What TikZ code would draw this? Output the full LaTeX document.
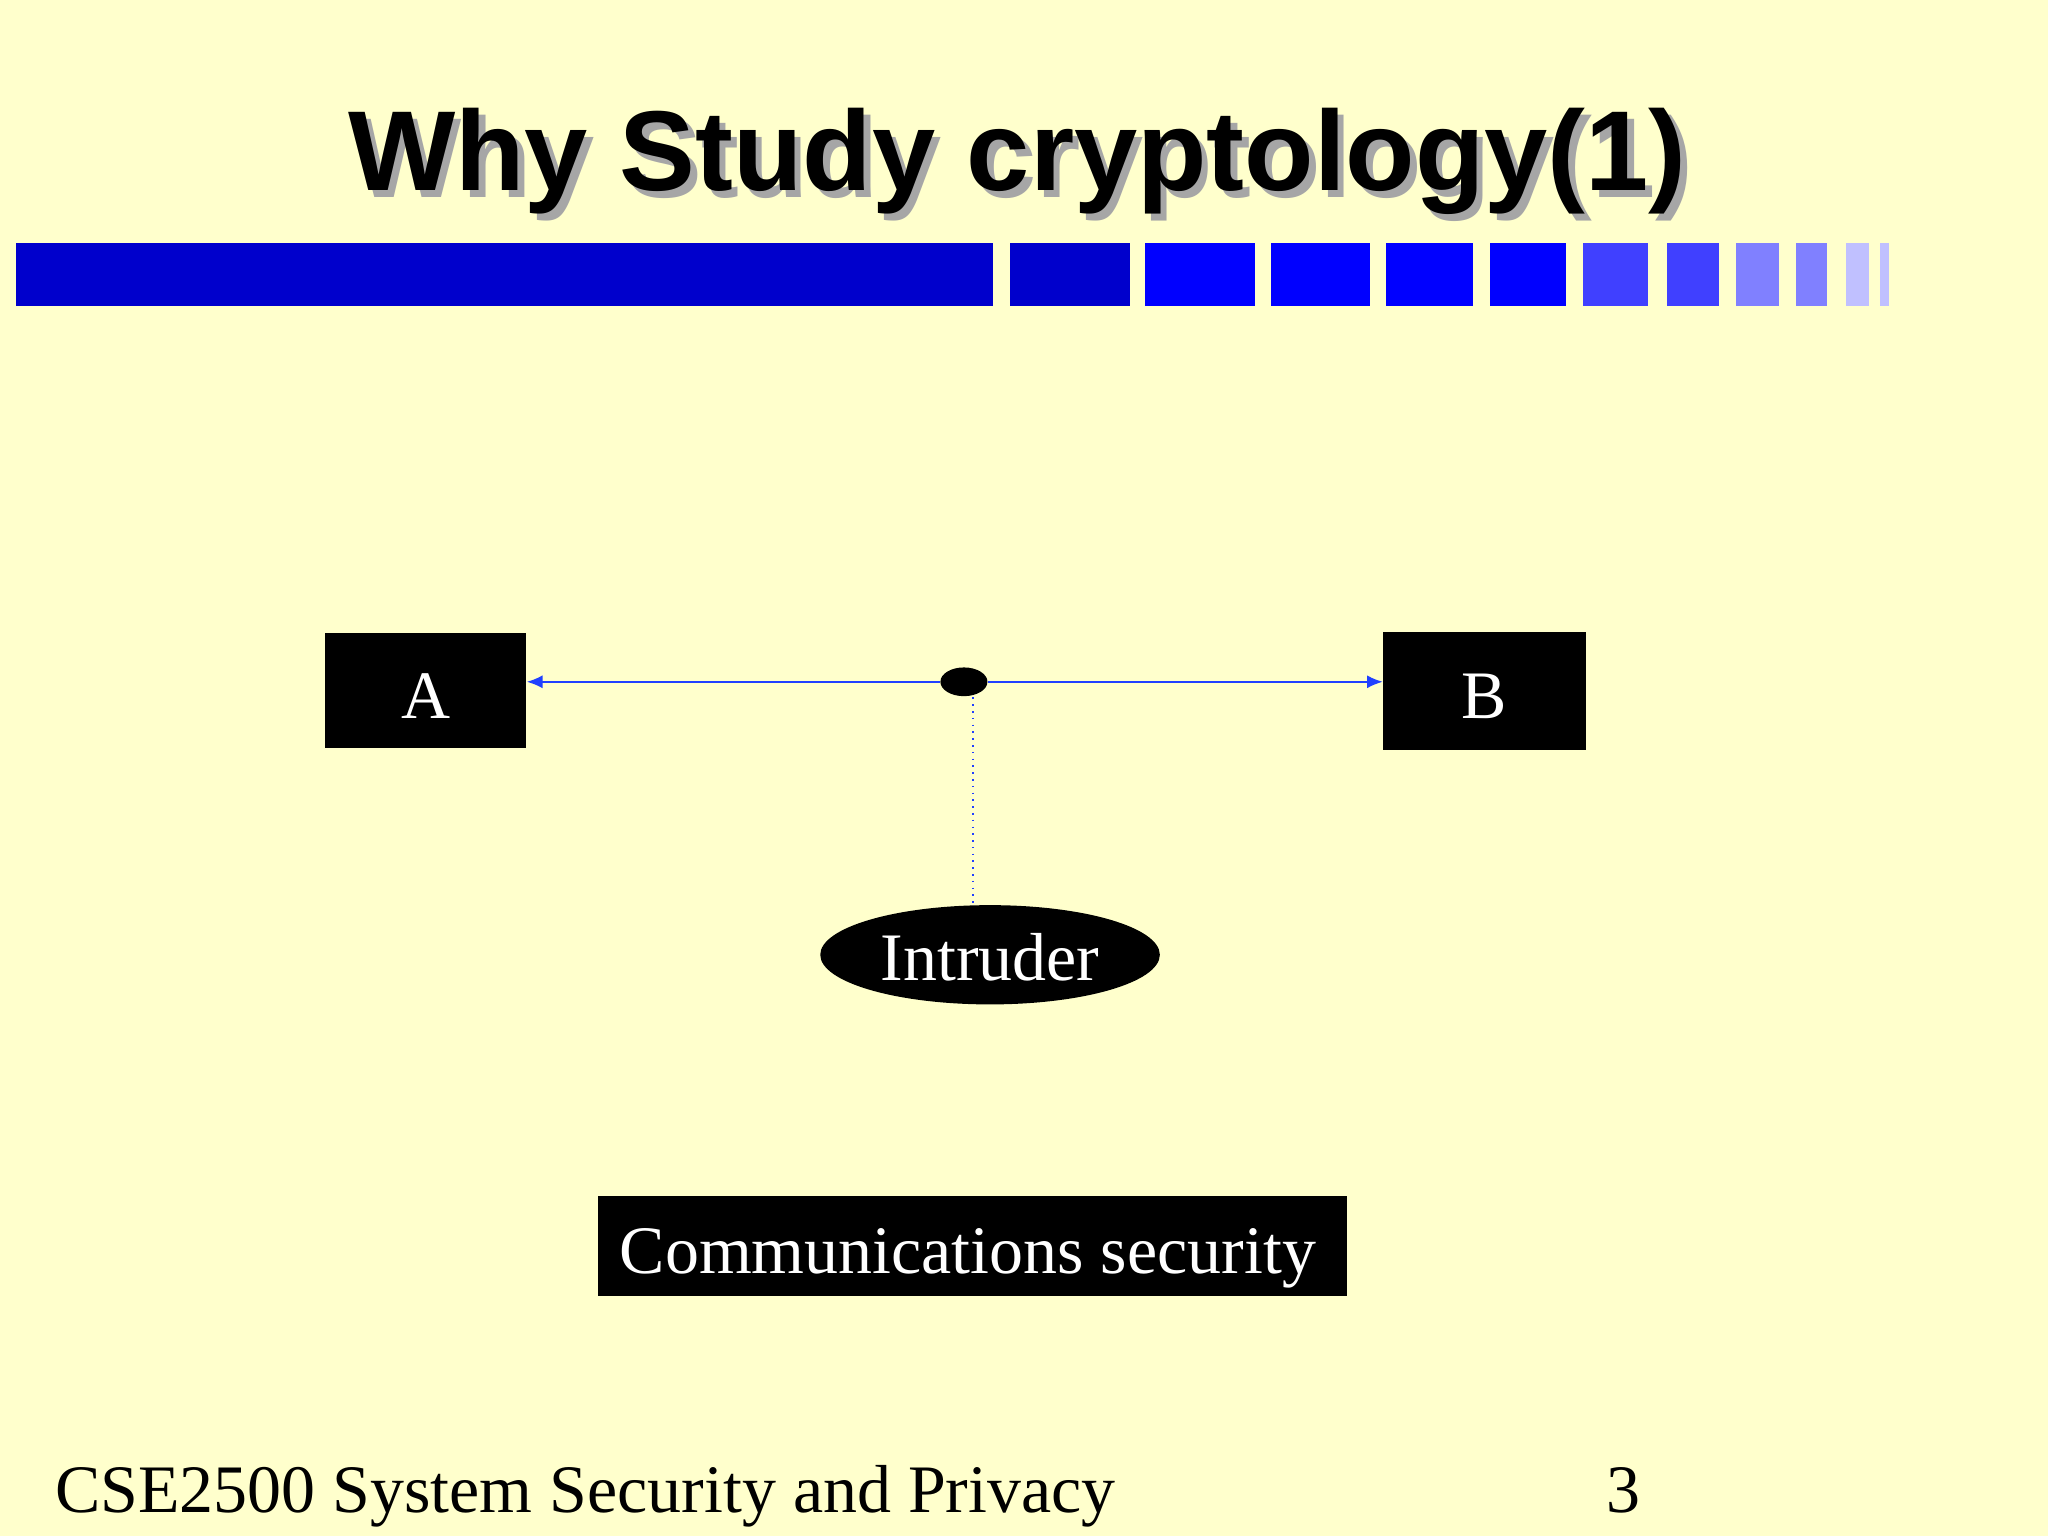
\documentclass[tikz,border=0pt]{standalone}
\usepackage{fontspec}
\setmainfont{Liberation Serif}
\newfontfamily\titlefont{Liberation Sans}
\usetikzlibrary{arrows.meta,shapes.geometric}
\definecolor{bg}{HTML}{FFFFCC}
\definecolor{b1}{HTML}{0000CC}
\definecolor{b2}{HTML}{0000FF}
\definecolor{b3}{HTML}{4040FF}
\definecolor{b4}{HTML}{8080FF}
\definecolor{b5}{HTML}{C0C0FF}
\definecolor{lineblue}{HTML}{2040FF}
\tikzset{
  blk/.style={fill=black,inner sep=0pt,anchor=center},
  wtxt/.style={text=white,anchor=base,inner sep=0pt,font=\fontsize{26}{28}\selectfont},
  conn/.style={draw=lineblue,line width=0.6pt,-{Latex[length=6pt,width=5pt]}}
}
\newcommand{\shadowtitle}[1]{\makebox[0pt][l]{\hspace{2.5pt}\raisebox{-2.5pt}{\textcolor{black!35}{#1}}}#1}
\begin{document}
\begin{tikzpicture}[x=0.5pt,y=-0.5pt]
\fill[bg] (0,0) rectangle (1568,1176);
\useasboundingbox (0,0) rectangle (1568,1176);
% title
\node (title) [anchor=base,inner sep=0pt,text=black,font=\titlefont\bfseries\fontsize{43.5}{46}\selectfont] at (779,146) {\shadowtitle{Why Study cryptology(1)}};
% bar
\fill[b1] (12,186) rectangle (760,234);
\fill[b1] (773,186) rectangle (865,234);
\foreach \a/\b in {877/961,973/1049,1061/1128,1141/1199} \fill[b2] (\a,186) rectangle (\b,234);
\foreach \a/\b in {1212/1262,1276/1316} \fill[b3] (\a,186) rectangle (\b,234);
\foreach \a/\b in {1329/1362,1375/1399} \fill[b4] (\a,186) rectangle (\b,234);
\foreach \a/\b in {1413/1431,1439/1446} \fill[b5] (\a,186) rectangle (\b,234);
% nodes
\node (A) [blk,minimum width=77pt,minimum height=44pt] at (326,529) {};
\node (At) [wtxt] at (326,550) {A};
\node (B) [blk,minimum width=77.5pt,minimum height=45pt] at (1136.5,529) {};
\node (Bt) [wtxt] at (1136.5,550) {B};
\node (dot) [ellipse,fill=black,minimum width=18pt,minimum height=11pt,inner sep=0pt] at (738,522) {};
\node (intr) [ellipse,fill=black,minimum width=130pt,minimum height=38pt,inner sep=0pt] at (758,731) {};
\node (intrt) [wtxt] at (758,751) {Intruder};
\node (comm) [blk,minimum width=286.5pt,minimum height=38pt] at (744.5,954) {};
\node (commt) [wtxt] at (741,975) {Communications security};
\draw[conn] (dot.west) -- (A.east |- dot.west);
\draw[conn] (dot.east) -- (B.west |- dot.east);
\draw[lineblue,dotted,line width=0.6pt] (745,534) -- (745,693);
% footer
\node (foot) [anchor=base west,inner sep=0pt,font=\fontsize{26}{28}\selectfont] at (42,1158) {CSE2500 System Security and Privacy};
\node (num) [anchor=base,font=\fontsize{26}{28}\selectfont] at (1243,1158) {3};
\end{tikzpicture}
\end{document}
